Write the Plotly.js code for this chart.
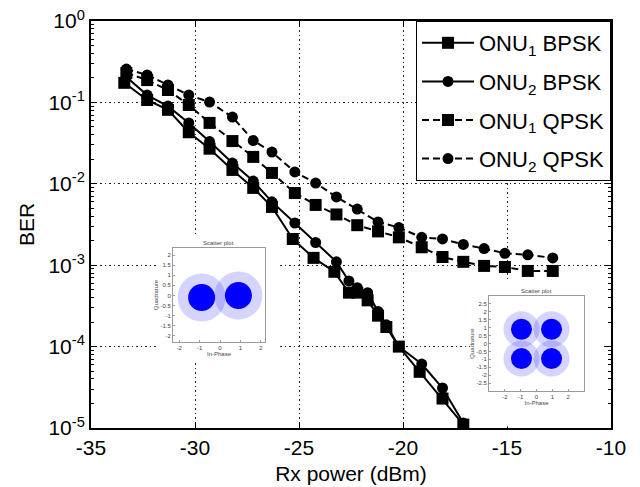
<!DOCTYPE html>
<html>
<head>
<meta charset="utf-8">
<script src="https://cdn.plot.ly/plotly-3.0.1.min.js"></script>
<style>html,body{margin:0;padding:0;background:#fff;}#chart{width:640px;height:487px;}</style>
</head>
<body>
<div id="chart"></div>
<script>
// ---- main chart data ----
var xB1 = [-33.4,-32.3,-31.3,-30.3,-29.3,-28.2,-27.2,-26.3,-25.3,-24.3,-23.3,-22.6,-22.2,-21.7,-21.2,-20.8,-20.2,-19.2,-18.1,-17.1];
var yB1 = [0.174,0.107,0.081,0.043,0.027,0.0148,0.0089,0.0052,0.0021,0.00123,8.3e-4,4.6e-4,4.6e-4,3.7e-4,2.4e-4,1.74e-4,1.0e-4,4.9e-5,2.3e-5,1.1e-5];
var xB2 = [-33.3,-32.3,-31.3,-30.3,-29.3,-28.2,-27.2,-26.3,-25.2,-24.2,-23.2,-22.6,-22.2,-21.7,-21.2,-20.8,-20.2,-19.1,-18.1,-17.1];
var yB2 = [0.205,0.123,0.09,0.056,0.033,0.018,0.0108,0.006,0.0033,0.0019,0.0011,6.4e-4,5.3e-4,4.6e-4,2.7e-4,1.85e-4,1.0e-4,6.1e-5,3.1e-5,1.15e-5];
var xQ  = [-33.3,-32.3,-31.3,-30.3,-29.3,-28.2,-27.2,-26.3,-25.2,-24.2,-23.2,-22.2,-21.2,-20.2,-19.1,-18.1,-17.1,-16.1,-15.1,-14.0,-12.8];
var yQ1 = [0.23,0.188,0.142,0.093,0.056,0.0335,0.0214,0.0136,0.0077,0.0055,0.0042,0.0031,0.0026,0.0022,0.00166,0.00126,0.0011,0.00098,0.00095,0.00085,0.00085];
var yQ2 = [0.257,0.217,0.164,0.123,0.101,0.066,0.034,0.0245,0.014,0.0102,0.0069,0.0049,0.0034,0.0029,0.0022,0.0021,0.0018,0.0016,0.0014,0.00134,0.00123];
var names = ['ONU<sub>1</sub> BPSK','ONU<sub>2</sub> BPSK','ONU<sub>1</sub> QPSK','ONU<sub>2</sub> QPSK'];

// ---- axis tick labels ----
var xTickVals = [-35,-30,-25,-20,-15,-10];
var xTickText = ['-35','-30','-25','-20','-15','-10'];
var yTickVals = [1,0.1,0.01,0.001,0.0001,0.00001];
var yTickText = ['10<sup>0</sup>','10<sup>-1</sup>','10<sup>-2</sup>','10<sup>-3</sup>','10<sup>-4</sup>','10<sup>-5</sup>'];

// ---- inset constellation cluster centres ----
var bpskI = [-0.9, 0.9];
var bpskQ = [-0.1, 0.0];
var qpskI = [-0.95, 0.95, -0.95, 0.95];
var qpskQ = [0.9, 0.9, -0.95, -0.95];
var bpskXTicks = [-2,-1,0,1,2];
var bpskYTicks = [-2,-1.5,-1,-0.5,0,0.5,1,1.5,2];
var qpskXTicks = [-2,-1,0,1,2];
var qpskYTicks = [-2.5,-2,-1.5,-1,-0.5,0,0.5,1,1.5,2,2.5];

var font = 'Liberation Sans, Arial, sans-serif';
function line(x, y, name, sym, size, dash) {
  return {x: x, y: y, name: name, type: 'scatter', mode: 'lines+markers',
    line: {color: '#000', width: 2, dash: dash},
    marker: {symbol: sym, size: size, color: '#000'},
    legendgroup: name, xaxis: 'x', yaxis: 'y'};
}
var traces = [
  line(xB1, yB1, names[0], 'square', 12, 'solid'),
  line(xB2, yB2, names[1], 'circle', 11, 'solid'),
  line(xQ, yQ1, names[2], 'square', 12, '7px,4px'),
  line(xQ, yQ2, names[3], 'circle', 11, '7px,4px')
];
// empty traces for the white cover panels behind the insets
traces.push({x: [], y: [], type: 'scatter', mode: 'markers', xaxis: 'x2', yaxis: 'y2', showlegend: false});
traces.push({x: [], y: [], type: 'scatter', mode: 'markers', xaxis: 'x3', yaxis: 'y3', showlegend: false});
function cloud(x, y, xa, ya, halo, core) {
  return [
    {x: x, y: y, type: 'scatter', mode: 'markers', xaxis: xa, yaxis: ya, showlegend: false, hoverinfo: 'skip',
     marker: {size: halo, color: 'rgba(40,40,255,0.2)', line: {width: 0}}},
    {x: x, y: y, type: 'scatter', mode: 'markers', xaxis: xa, yaxis: ya, showlegend: false, hoverinfo: 'skip',
     marker: {size: core, color: '#0000ff', line: {width: 0}}}
  ];
}
traces = traces.concat(cloud(bpskI, bpskQ, 'x4', 'y4', 48, 27));
traces = traces.concat(cloud(qpskI, qpskQ, 'x5', 'y5', 36, 21));

function insetAxis(dom, range, ticks, anchor, title) {
  return {domain: dom, range: range, anchor: anchor, tickmode: 'array', tickvals: ticks, ticktext: ticks.map(String),
    showline: true, mirror: true, linecolor: '#9a9a9a', linewidth: 1, ticks: 'inside', ticklen: 2,
    tickcolor: '#9a9a9a', tickfont: {size: 6, color: '#444', family: font}, showgrid: false, zeroline: false,
    title: {text: title, font: {size: 6, color: '#444', family: font}, standoff: 1}, fixedrange: true};
}
function coverAxis(dom, anchor) {
  return {domain: dom, anchor: anchor, range: [0, 1], showticklabels: false, ticks: '', showline: false,
    showgrid: false, zeroline: false, fixedrange: true};
}

var layout = {
  width: 640, height: 487,
  margin: {l: 91, r: 29, t: 21, b: 59},
  paper_bgcolor: '#fff', plot_bgcolor: '#fff',
  font: {family: font, color: '#000'},
  showlegend: true,
  legend: {x: 1, y: 1, xanchor: 'right', yanchor: 'top', bgcolor: '#fff', bordercolor: '#000', borderwidth: 1,
    font: {size: 22, family: font, color: '#000'}, tracegroupgap: 7, itemwidth: 52},
  xaxis: {domain: [0, 1], range: [-35, -10], tickmode: 'array', tickvals: xTickVals, ticktext: xTickText,
    showline: true, linecolor: '#000', linewidth: 2, mirror: 'ticks', ticks: 'inside', ticklen: 6, tickcolor: '#000',
    showgrid: true, gridcolor: '#222', gridwidth: 1, griddash: '1.5px,3px', zeroline: false,
    tickfont: {size: 21, family: font}, title: {text: 'Rx power (dBm)', font: {size: 21, family: font}, standoff: 8}},
  yaxis: {domain: [0, 1], type: 'log', range: [-5, 0], tickmode: 'array', tickvals: yTickVals, ticktext: yTickText,
    showline: true, linecolor: '#000', linewidth: 2, mirror: 'ticks', ticks: 'inside', ticklen: 6, tickcolor: '#000',
    minor: {dtick: 'D1', ticks: 'inside', ticklen: 3, tickcolor: '#000', showgrid: false},
    showgrid: true, gridcolor: '#222', gridwidth: 1, griddash: '1.5px,3px', zeroline: false,
    tickfont: {size: 21, family: font}, title: {text: 'BER', font: {size: 21, family: font}, standoff: 8}},
  // white cover panels (hide the main grid behind the insets)
  xaxis2: coverAxis([0.129, 0.363], 'y2'),
  yaxis2: coverAxis([0.167, 0.474], 'x2'),
  xaxis3: coverAxis([0.729, 0.985], 'y3'),
  yaxis3: coverAxis([0.004, 0.364], 'x3'),
  // inset axes
  xaxis4: insetAxis([0.1577, 0.3346], [-2.3, 2.2], bpskXTicks, 'y4', 'In-Phase'),
  yaxis4: insetAxis([0.2113, 0.4423], [-2.3, 2.35], bpskYTicks, 'x4', 'Quadrature'),
  xaxis5: insetAxis([0.7654, 0.9481], [-3, 3], qpskXTicks, 'y5', 'In-Phase'),
  yaxis5: insetAxis([0.0909, 0.3243], [-3, 3], qpskYTicks, 'x5', 'Quadrature'),
  annotations: [
    {text: 'Scatter plot', xref: 'x4 domain', yref: 'y4 domain', x: 0.5, y: 1.0, yanchor: 'bottom', showarrow: false,
     font: {size: 6, color: '#444', family: font}},
    {text: 'Scatter plot', xref: 'x5 domain', yref: 'y5 domain', x: 0.5, y: 1.0, yanchor: 'bottom', showarrow: false,
     font: {size: 6, color: '#444', family: font}}
  ]
};
Plotly.newPlot('chart', traces, layout, {displayModeBar: false, staticPlot: true});
</script>
</body>
</html>
